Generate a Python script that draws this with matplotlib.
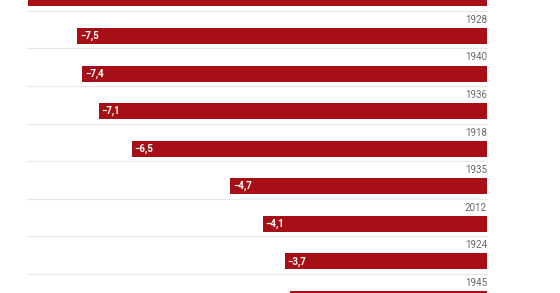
import matplotlib.pyplot as plt

plt.rcParams['font.family'] = ['Roboto', 'DejaVu Sans']

# roky a propad (v procentech), seřazeno podle velikosti
years = ['1932', '1928', '1940', '1936', '1918', '1935', '2012', '1924', '1945']
values = [-8.4, -7.5, -7.4, -7.1, -6.5, -4.7, -4.1, -3.7, -3.6]

rows = list(range(len(years)))

fig = plt.figure(figsize=(5.6, 2.93), dpi=100)
ax = fig.add_axes((0, 0, 1, 1))
ax.set_xlim(-8.908, 1.335)
ax.set_ylim(7.843, 0.04)
ax.axis('off')

ax.barh(rows, values, height=0.424, color='#a50f15', edgecolor='none')

for r, y, v in zip(rows, years, values):
	# tenka linka pod kazdym radkem
	ax.plot([-8.42, 0], [r + 0.33, r + 0.33], color='#e8e8e8', lw=0.8, zorder=0)
	# horni rok je uplne mimo obrazek
	if r > 0:
		ax.text(0, r - 0.43, y, ha='right', va='center', fontsize=7, color='#666666')
	txt = ('%.1f' % v).replace('-', '\u2212').replace('.', ',')
	ax.annotate(txt, xy=(v, r), xytext=(2, 0), textcoords='offset points',
		ha='left', va='center', fontsize=7, color='white', fontweight='bold')

fig.savefig('out.png', dpi=100)
